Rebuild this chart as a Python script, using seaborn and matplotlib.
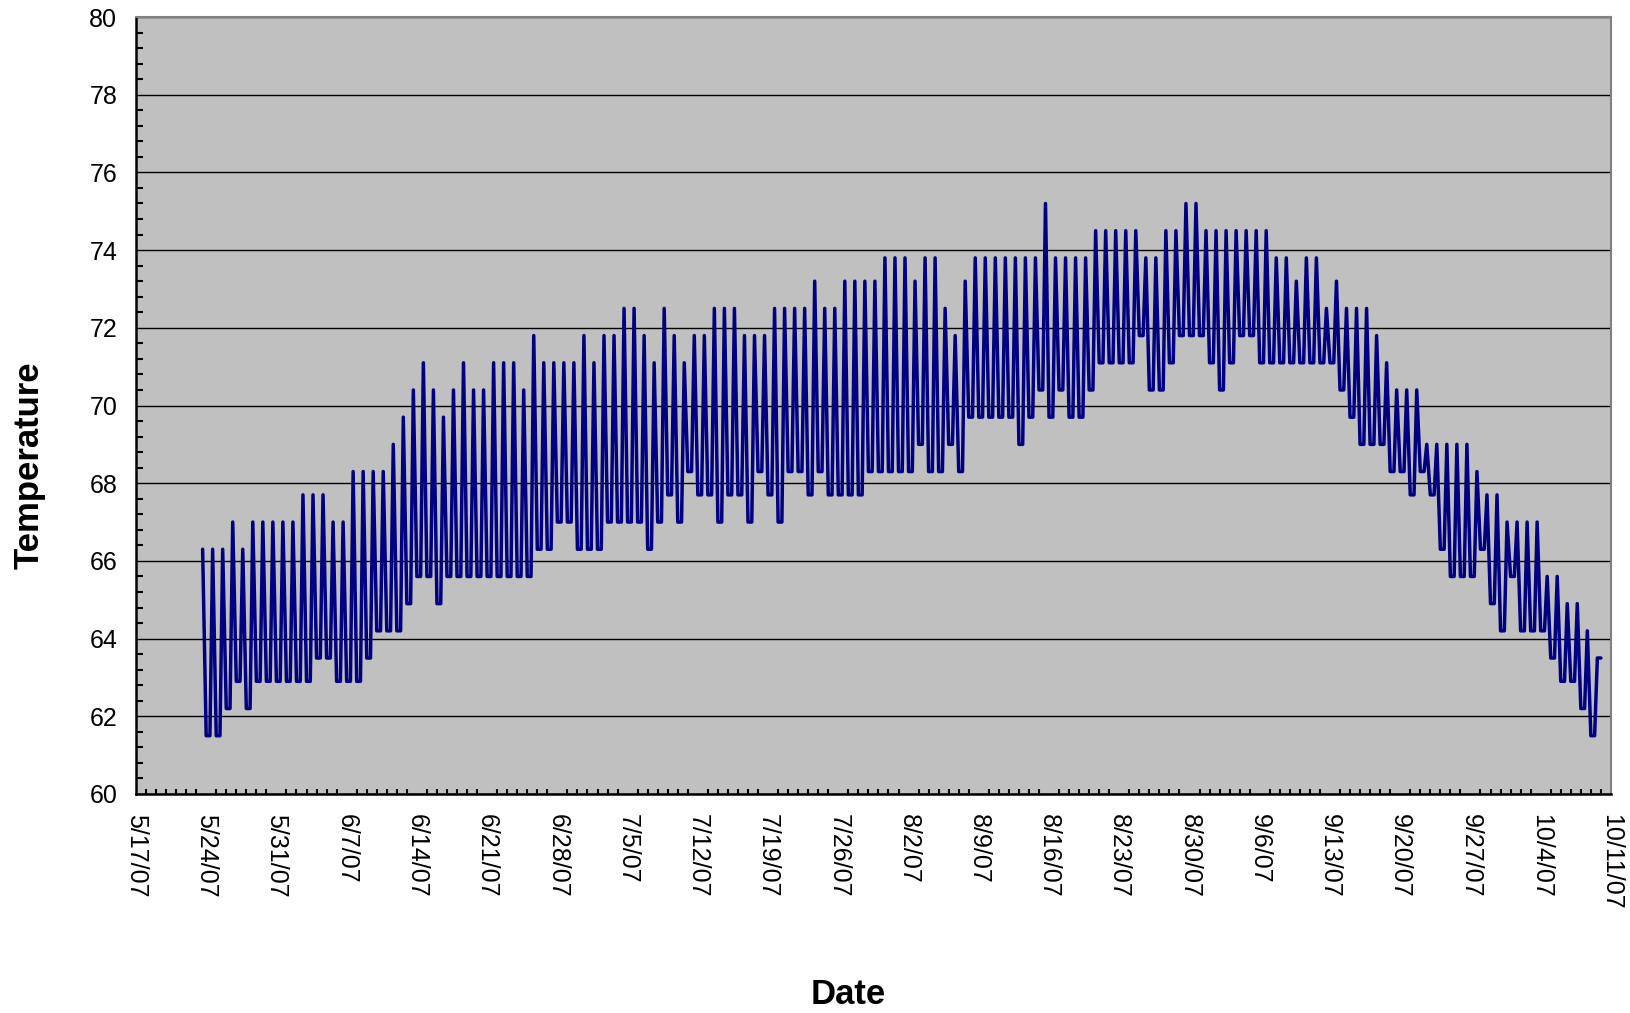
import matplotlib
matplotlib.use("Agg")
import matplotlib.pyplot as plt
from matplotlib.ticker import MultipleLocator
import numpy as np
import pandas as pd
import seaborn as sns

# logger readings: one afternoon high per day, then the overnight low after it
first_day = "2007-05-23"

daily_high = [
    66.3, 66.3, 66.3, 67.0, 66.3, 67.0, 67.0, 67.0, 67.0, 67.0, 67.7, 67.7,
    67.7, 67.0, 67.0, 68.3, 68.3, 68.3, 68.3, 69.0, 69.7, 70.4, 71.1, 70.4,
    69.7, 70.4, 71.1, 70.4, 70.4, 71.1, 71.1, 71.1, 70.4, 71.8, 71.1, 71.1,
    71.1, 71.1, 71.8, 71.1, 71.8, 71.8, 72.5, 72.5, 71.8, 71.1, 72.5, 71.8,
    71.1,
    71.8, 71.8, 72.5, 72.5, 72.5, 71.8, 71.8, 71.8, 72.5, 72.5, 72.5, 72.5,
    73.2, 72.5, 72.5, 73.2, 73.2, 73.2, 73.2, 73.8, 73.8, 73.8, 73.2, 73.8,
    73.8,
    72.5, 71.8, 73.2, 73.8, 73.8, 73.8, 73.8, 73.8, 73.8, 73.8, 75.2, 73.8,
    73.8, 73.8, 73.8, 74.5, 74.5, 74.5, 74.5, 74.5, 73.8, 73.8, 74.5, 74.5,
    75.2,
    75.2, 74.5, 74.5, 74.5, 74.5, 74.5, 74.5, 74.5, 73.8, 73.8, 73.2, 73.8,
    73.8, 72.5, 73.2, 72.5, 72.5, 72.5, 71.8, 71.1, 70.4, 70.4, 70.4, 69.0,
    69.0, 69.0, 69.0, 69.0, 68.3, 67.7, 67.7, 67.0, 67.0, 67.0, 67.0, 65.6,
    65.6, 64.9, 64.9, 64.2, 63.5,
]

overnight_low = [
    61.5, 61.5, 62.2, 62.9, 62.2, 62.9, 62.9, 62.9, 62.9, 62.9, 62.9, 63.5,
    63.5, 62.9, 62.9, 62.9, 63.5, 64.2, 64.2, 64.2, 64.9, 65.6, 65.6, 64.9,
    65.6, 65.6, 65.6, 65.6, 65.6, 65.6, 65.6, 65.6, 65.6, 66.3, 66.3, 67.0,
    67.0, 66.3, 66.3, 66.3, 67.0, 67.0, 67.0, 67.0, 66.3, 67.0, 67.7, 67.0,
    68.3,
    67.7, 67.7, 67.0, 67.7, 67.7, 67.0, 68.3, 67.7, 67.0, 68.3, 68.3, 67.7,
    68.3, 67.7, 67.7, 67.7, 67.7, 68.3, 68.3, 68.3, 68.3, 68.3, 69.0, 68.3,
    68.3,
    69.0, 68.3, 69.7, 69.7, 69.7, 69.7, 69.7, 69.0, 69.7, 70.4, 69.7, 70.4,
    69.7, 69.7, 70.4, 71.1, 71.1, 71.1, 71.1, 71.8, 70.4, 70.4, 71.1, 71.8,
    71.8,
    71.8, 71.1, 70.4, 71.1, 71.8, 71.8, 71.1, 71.1, 71.1, 71.1, 71.1, 71.1,
    71.1, 71.1, 70.4, 69.7, 69.0, 69.0, 69.0, 68.3, 68.3, 67.7, 68.3, 67.7,
    66.3, 65.6, 65.6, 65.6, 66.3, 64.9, 64.2, 65.6, 64.2, 64.2, 64.2, 63.5,
    62.9, 62.9, 62.2, 61.5,
]

last_reading_time = "2007-10-10 00:00"
last_reading_temp = 63.5

x_start, x_end = "2007-05-17", "2007-10-11"

# build the reading series: high in the afternoon, low held through the night
days = pd.date_range(first_day, periods=len(daily_high), freq="D")
times, temps = [], []
for i, day in enumerate(days):
    times.append(day + pd.Timedelta(hours=15.5))
    temps.append(daily_high[i])
    if i < len(overnight_low):
        times.append(day + pd.Timedelta(hours=24))
        temps.append(overnight_low[i])
        times.append(day + pd.Timedelta(hours=33))
        temps.append(overnight_low[i])
times.append(pd.Timestamp(last_reading_time))
temps.append(last_reading_temp)
df = pd.DataFrame({"Date": times, "Temperature": temps})

sns.set_style("white")
plt.rcParams["font.family"] = ["Liberation Sans", "DejaVu Sans"]
plt.rcParams["text.color"] = "black"

fig = plt.figure(figsize=(16.3, 10.13), dpi=100)
ax = fig.add_axes([0.0834, 0.2162, 0.9049, 0.7670])
ax.set_facecolor("#c0c0c0")

sns.lineplot(data=df, x="Date", y="Temperature", ax=ax, color="#000080",
             linewidth=2.5, estimator=None, sort=False)

# axes
ax.set_ylim(60, 80)
ax.yaxis.set_major_locator(MultipleLocator(2))
ax.yaxis.set_minor_locator(MultipleLocator(0.4))
ax.set_xlim(pd.Timestamp(x_start), pd.Timestamp(x_end))
major_days = pd.date_range(x_start, x_end, freq="7D")
ax.set_xticks(major_days)
ax.set_xticklabels([f"{d.month}/{d.day}/{d:%y}" for d in major_days],
                   rotation=-90, va="top", ha="center")
ax.set_xticks(pd.date_range(x_start, x_end, freq="D"), minor=True)

ax.yaxis.grid(True, which="major", color="black", linewidth=1.0)
ax.xaxis.grid(False)
ax.set_axisbelow(True)

ax.tick_params(axis="both", which="major", direction="out", length=5.5,
               width=1.5, labelsize=18, colors="black")
ax.tick_params(axis="y", which="major", pad=8)
ax.tick_params(axis="x", which="major", pad=9)
ax.tick_params(axis="y", which="minor", direction="in", length=4.8, width=1.5,
               left=True, colors="black")
ax.tick_params(axis="x", which="minor", direction="in", length=3.6, width=1.5,
               bottom=True, colors="black")

for side in ["left", "bottom"]:
    ax.spines[side].set_color("black")
    ax.spines[side].set_linewidth(1.8)
for side in ["top", "right"]:
    ax.spines[side].set_color("#808080")
    ax.spines[side].set_linewidth(1.5)

ax.set_xlabel("Date", fontsize=25, fontweight="bold", color="black")
ax.set_ylabel("Temperature", fontsize=25, fontweight="bold", color="black")
ax.xaxis.set_label_coords(0.483, -0.258)
ax.xaxis.label.set_va("center")
ax.yaxis.set_label_coords(-0.0725, 0.423)
ax.yaxis.label.set_va("center")

fig.savefig("out.png", dpi=100, facecolor="white")
